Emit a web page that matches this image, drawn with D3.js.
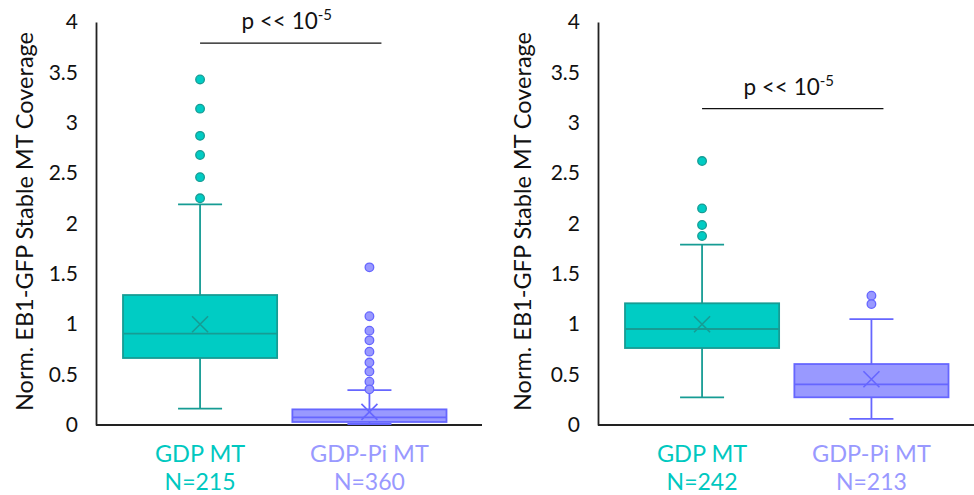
<!DOCTYPE html>
<html><head><meta charset="utf-8">
<script src="https://cdn.jsdelivr.net/npm/d3@7"></script>
<style>body{margin:0;background:#fff}svg{display:block}text{font-family:Lato,"Noto Sans",sans-serif}</style>
</head><body><svg id="c" width="974" height="495"></svg>
<script>
const categories = ["GDP MT", "GDP-Pi MT"];
const yTicks = [0, 0.5, 1, 1.5, 2, 2.5, 3, 3.5, 4];
const yTickLabels = ["0", "0.5", "1", "1.5", "2", "2.5", "3", "3.5", "4"];
const yTitle = "Norm. EB1-GFP Stable MT Coverage";
const pLabel = "p << 10";
const pExp = "-5";

// Panel A (left)
const leftN = ["N=215", "N=360"];
const leftWhiskerLow = [0.162, 0.01];
const leftQ1 = [0.665, 0.03];
const leftMedian = [0.906, 0.076];
const leftQ3 = [1.29, 0.155];
const leftWhiskerHigh = [2.19, 0.347];
const leftMean = [1.0, 0.13];
const leftOutliersGDP = [3.43, 3.14, 2.87, 2.68, 2.46, 2.25];
const leftOutliersPi = [1.565, 1.08, 0.936, 0.84, 0.728, 0.62, 0.53, 0.43, 0.354];
const leftPValueY = 3.79;

// Panel B (right)
const rightN = ["N=242", "N=213"];
const rightWhiskerLow = [0.275, 0.06];
const rightQ1 = [0.764, 0.275];
const rightMedian = [0.953, 0.404];
const rightQ3 = [1.208, 0.605];
const rightWhiskerHigh = [1.79, 1.05];
const rightMean = [1.0, 0.454];
const rightOutliersGDP = [2.62, 2.15, 1.985, 1.876];
const rightOutliersPi = [1.283, 1.2];
const rightPValueY = 3.14;

const fills = ["#00CCC4", "#9999FF"];
const strokes = ["#169C94", "#6666FF"];
const textColors = ["#00C8C0", "#9999FF"];

const svg = d3.select("#c");
const y = d3.scaleLinear().domain([0, 4]).range([425, 22]);

function panel(opt) {
  const g = svg.append("g");
  const x = d3.scaleBand().domain(categories).range(opt.boxRange).paddingInner(0.09).paddingOuter(0);
  const bw = x.bandwidth();
  // y axis
  const yAxis = d3.axisLeft(y).tickValues(yTicks).tickFormat((d, i) => yTickLabels[i]).tickSize(0).tickPadding(18);
  const ya = g.append("g").attr("transform", `translate(${opt.axisX},0)`).call(yAxis);
  ya.select(".domain").attr("stroke", "#222").attr("stroke-width", 1.8);
  ya.selectAll("text").attr("font-size", 21).attr("fill", "#111").attr("font-family", "Lato");
  // x axis line
  g.append("line").attr("x1", opt.axisX).attr("x2", opt.axisEnd).attr("y1", y(0)).attr("y2", y(0))
    .attr("stroke", "#222").attr("stroke-width", 1.8);
  // y title
  g.append("text").attr("transform", `translate(${opt.titleX},${(y(0) + y(4)) / 2 - 2}) rotate(-90)`)
    .attr("text-anchor", "middle").attr("dominant-baseline", "central")
    .attr("font-size", 23.5).attr("fill", "#111").text(yTitle);

  categories.forEach((c, i) => {
    const cx = x(c) + bw / 2;
    const col = strokes[i];
    const capW = 44;
    // whiskers
    g.append("line").attr("x1", cx).attr("x2", cx).attr("y1", y(opt.wHigh[i])).attr("y2", y(opt.q3[i])).attr("stroke", col).attr("stroke-width", 1.8);
    g.append("line").attr("x1", cx).attr("x2", cx).attr("y1", y(opt.q1[i])).attr("y2", y(opt.wLow[i])).attr("stroke", col).attr("stroke-width", 1.8);
    [opt.wHigh[i], opt.wLow[i]].forEach(v => {
      g.append("line").attr("x1", cx - capW / 2).attr("x2", cx + capW / 2).attr("y1", y(v)).attr("y2", y(v)).attr("stroke", col).attr("stroke-width", 1.8);
    });
    // box
    g.append("rect").attr("x", x(c)).attr("width", bw).attr("y", y(opt.q3[i])).attr("height", y(opt.q1[i]) - y(opt.q3[i]))
      .attr("fill", fills[i]).attr("stroke", col).attr("stroke-width", 1.8);
    g.append("line").attr("x1", x(c)).attr("x2", x(c) + bw).attr("y1", y(opt.med[i])).attr("y2", y(opt.med[i])).attr("stroke", col).attr("stroke-width", 1.8);
    // mean X
    const my = y(opt.mean[i]), s = 8;
    g.append("path").attr("d", `M${cx - s},${my - s}L${cx + s},${my + s}M${cx - s},${my + s}L${cx + s},${my - s}`)
      .attr("stroke", col).attr("stroke-width", 1.6).attr("fill", "none");
    // outliers
    g.selectAll(null).data(opt.outliers[i]).enter().append("circle")
      .attr("cx", cx).attr("cy", d => y(d)).attr("r", 4.3)
      .attr("fill", fills[i]).attr("stroke", col).attr("stroke-width", 1.3);
    // category labels
    g.append("text").attr("x", cx).attr("y", 462).attr("text-anchor", "middle").attr("font-size", 23.5)
      .attr("fill", textColors[i]).text(c);
    g.append("text").attr("x", cx).attr("y", 490).attr("text-anchor", "middle").attr("font-size", 23)
      .attr("fill", textColors[i]).text(opt.n[i]);
  });

  // p-value bar
  const c0 = x(categories[0]) + bw / 2, c1 = x(categories[1]) + bw / 2;
  const py = y(opt.pY);
  g.append("line").attr("x1", c0).attr("x2", c1 + 12).attr("y1", py).attr("y2", py).attr("stroke", "#111").attr("stroke-width", 1.2);
  const t = g.append("text").attr("x", (c0 + c1) / 2 + 2).attr("y", py - 14).attr("text-anchor", "middle")
    .attr("font-size", 22.5).attr("fill", "#111");
  t.append("tspan").text(pLabel);
  t.append("tspan").attr("font-size", 15).attr("dy", -9).text(pExp);
}

panel({ axisX: 96, axisEnd: 482, boxRange: [123, 446.5], titleX: 24,
  wLow: leftWhiskerLow, q1: leftQ1, med: leftMedian, q3: leftQ3, wHigh: leftWhiskerHigh, mean: leftMean,
  outliers: [leftOutliersGDP, leftOutliersPi], n: leftN, pY: leftPValueY });
panel({ axisX: 598, axisEnd: 974, boxRange: [625, 948.5], titleX: 522,
  wLow: rightWhiskerLow, q1: rightQ1, med: rightMedian, q3: rightQ3, wHigh: rightWhiskerHigh, mean: rightMean,
  outliers: [rightOutliersGDP, rightOutliersPi], n: rightN, pY: rightPValueY });
</script></body></html>
